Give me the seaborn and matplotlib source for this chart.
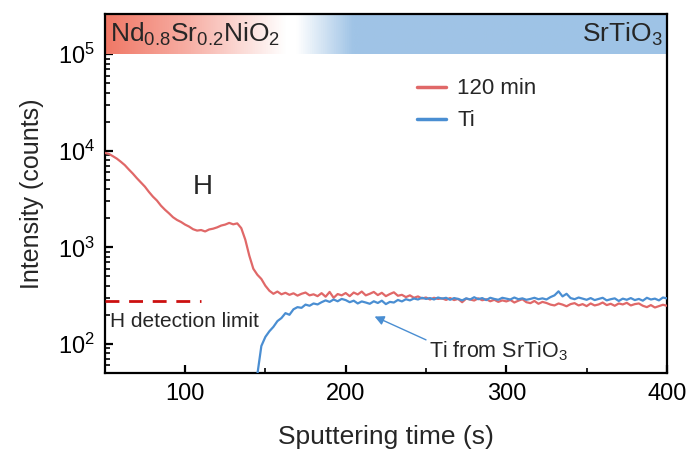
import numpy as np
import pandas as pd
import matplotlib
matplotlib.use("Agg")
import matplotlib.pyplot as plt
from matplotlib.colors import LinearSegmentedColormap
from matplotlib.lines import Line2D
import seaborn as sns

# H signal after 120 min (counts), sampled every 2.5 s from 50 s
h_120min = [
    9500, 9300, 8800, 8300, 7700, 7100, 6400, 5800,
    5200, 4700, 4250, 3750, 3350, 3050, 2700, 2450,
    2250, 2050, 1920, 1830, 1720, 1640, 1540, 1490,
    1510, 1460, 1530, 1560, 1610, 1680, 1720, 1790,
    1730, 1770, 1580, 1200, 820, 600, 520, 470,
    400, 355, 330, 348, 326, 338, 322, 334,
    316, 330, 340, 318, 326, 312, 335, 308,
    345, 300, 328, 318, 336, 312, 340, 325,
    348, 318, 330, 345, 320, 338, 312, 328,
    342, 315, 322, 305, 318, 300, 310, 295,
    302, 288, 300, 292, 296, 285, 298, 284,
    292, 270, 294, 288, 281, 296, 283, 290,
    276, 286, 272, 282, 275, 285, 268, 280,
    290, 270, 264, 278, 260, 272, 265, 255,
    250, 262, 255, 245, 258, 264, 250, 258,
    246, 262, 250, 256, 268, 252, 260, 248,
    262, 256, 266, 250, 258, 262, 248, 240,
    252, 238, 246, 254, 248,
]
h_start = 50.0

# Ti signal (counts), sampled every 2.5 s from 145 s
ti = [
    48, 95, 118, 135, 150, 172, 185, 208,
    200, 228, 240, 236, 255, 248, 262, 256,
    270, 282, 272, 288, 276, 292, 284, 270,
    280, 262, 275, 268, 260, 276, 265, 280,
    258, 272, 268, 285, 275, 290, 282, 295,
    288, 300, 292, 298, 288, 302, 294, 300,
    286, 298, 292, 282, 296, 288, 304, 290,
    298, 284, 300, 292, 286, 300, 294, 288,
    302, 290, 296, 286, 292, 300, 290, 296,
    288, 305, 318, 350, 310, 330, 298, 290,
    302, 294, 286, 298, 284, 292, 300, 282,
    290, 296, 278, 294, 286, 298, 284, 292,
    280, 300, 288, 294, 282, 302, 296,
]
ti_start = 145.0
step = 2.5

detection_limit = 275
detection_range = [50, 110]

x_ticks = [100, 200, 300, 400]
x_minor = [150, 250, 350]
y_ticks = [1e2, 1e3, 1e4, 1e5]

h_time = h_start + step * np.arange(len(h_120min))
ti_time = ti_start + step * np.arange(len(ti))

df = pd.concat([
    pd.DataFrame({"time": h_time, "counts": h_120min, "series": "120 min"}),
    pd.DataFrame({"time": ti_time, "counts": ti, "series": "Ti"}),
], ignore_index=True)

sns.set_theme(style="ticks")
plt.rcParams.update({
    "font.family": ["Liberation Sans", "DejaVu Sans"],
    "mathtext.fontset": "custom",
    "mathtext.rm": "Liberation Sans",
    "mathtext.it": "Liberation Sans:italic",
    "mathtext.bf": "Liberation Sans:bold",
    "xtick.direction": "in",
    "ytick.direction": "in",
    "xtick.major.pad": 7,
    "ytick.major.pad": 7,
    "xtick.labelsize": 17,
    "ytick.labelsize": 17,
})

red = "#E06868"
blue = "#4A8ED2"
palette = {"120 min": red, "Ti": blue}

fig = plt.figure(figsize=(6.89, 4.57), dpi=100)
ax = fig.add_axes([0.152, 0.184, 0.816, 0.785])

sns.lineplot(data=df, x="time", y="counts", hue="series", palette=palette,
             linewidth=1.6, ax=ax, legend=False, zorder=3)
ax.set_yscale("log")

ymin, ymax = 50, 2.6e5
xmin, xmax = 50, 400

# Layer band across the top: film (red) fading into substrate (blue)
cmap = LinearSegmentedColormap.from_list(
    "layers",
    [(0.0, "#F07866"), (0.15, "#F7B0A6"), (0.32, "#FFFFFF"),
     (0.34, "#FFFFFF"), (0.44, "#A0C4E6"), (1.0, "#9EC3E6")])
grad = np.linspace(0, 1, 512).reshape(1, -1)
ax.imshow(grad, cmap=cmap, aspect="auto", extent=[xmin, xmax, 1e5, ymax],
          origin="lower", zorder=1, interpolation="bilinear")

ax.set_xticks(x_ticks)
ax.set_xticks(x_minor, minor=True)
ax.set_yticks(y_ticks)
ax.set_xlim(xmin, xmax)
ax.set_ylim(ymin, ymax)

ax.tick_params(axis="both", which="major", length=6, width=1.6, color="black",
               labelcolor="black")
ax.tick_params(axis="both", which="minor", length=3.5, width=1.2,
               color="black")

ax.text(53, 1.62e5, r"Nd$_{0.8}$Sr$_{0.2}$NiO$_2$", fontsize=19,
        va="center", ha="left", zorder=4)
ax.text(397, 1.62e5, r"SrTiO$_3$", fontsize=19, va="center", ha="right",
        zorder=4)

# Detection limit for H
ax.plot(detection_range, [detection_limit, detection_limit], color="#CC1010",
        linestyle=(0, (5, 3.5)), linewidth=2, zorder=3)
ax.text(53, 172, "H detection limit", fontsize=15, va="center", ha="left")

ax.text(111, 4200, "H", fontsize=20, ha="center", va="center")

ax.text(252, 84, "Ti from SrTiO$_3$", fontsize=15.5, va="center", ha="left")
ax.annotate("", xy=(218, 192), xytext=(250, 110),
            arrowprops=dict(arrowstyle="-|>", color=blue, lw=1.0,
                            mutation_scale=14, shrinkA=0, shrinkB=0))

handles = [Line2D([], [], color=red, lw=2.5), Line2D([], [], color=blue, lw=2.5)]
ax.legend(handles, ["120 min", "Ti"], loc="upper left",
          bbox_to_anchor=(0.52, 0.877), frameon=False, fontsize=16,
          handlelength=1.3, handletextpad=0.5, labelspacing=0.5)

ax.set_xlabel("Sputtering time (s)", fontsize=19, labelpad=15)
ax.set_ylabel("Intensity (counts)", fontsize=18, labelpad=10)

for s in ax.spines.values():
    s.set_linewidth(1.6)
    s.set_color("black")
    s.set_visible(True)

fig.savefig("out.png", dpi=100)
